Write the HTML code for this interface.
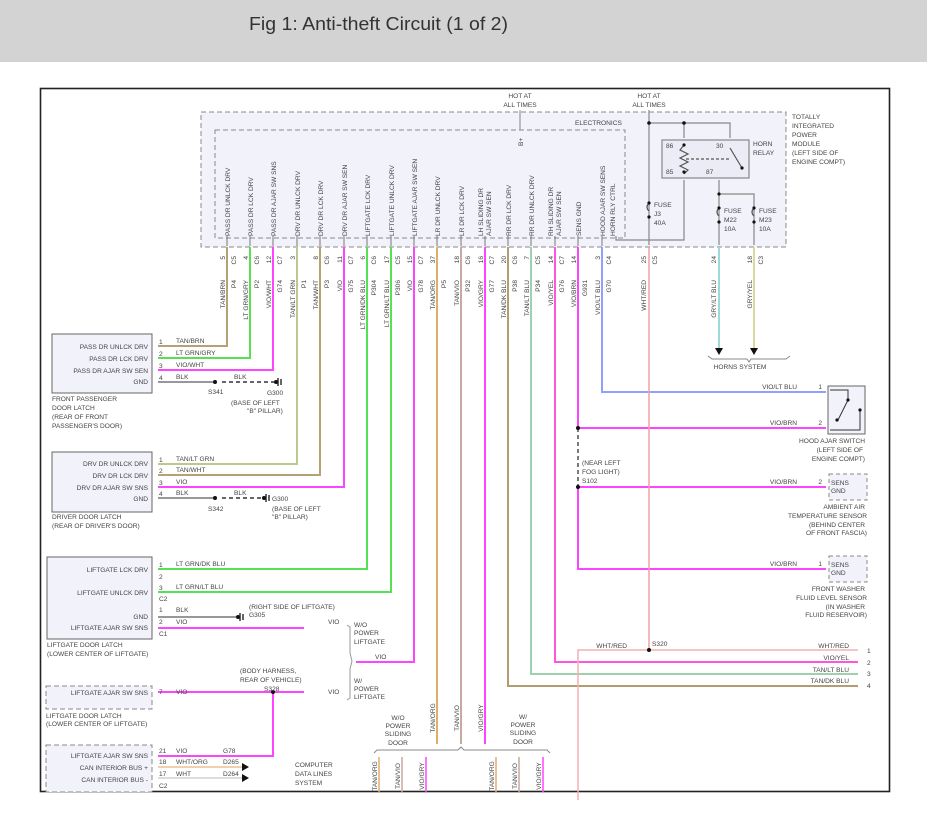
<!DOCTYPE html>
<html><head><meta charset="utf-8"><style>
html,body{margin:0;padding:0;background:#fff;width:927px;height:819px;overflow:hidden}
svg text{font-family:"Liberation Sans",sans-serif;font-size:6.6px;fill:#444}
</style></head><body>
<svg width="927" height="819" viewBox="0 0 927 819" xmlns="http://www.w3.org/2000/svg">
<rect x="0" y="0" width="927" height="62" fill="#d3d3d3"/>
<text x="249" y="30" textLength="259" lengthAdjust="spacingAndGlyphs" style="font-size:18px;fill:#333">Fig 1: Anti-theft Circuit (1 of 2)</text>
<rect x="40.5" y="88.5" width="849" height="703" fill="none" stroke="#222" stroke-width="1.6"/>

<!-- module boxes -->
<rect x="201" y="112" width="585" height="135" fill="#f2f2fb" stroke="#888" stroke-dasharray="5,3"/>
<rect x="215" y="130" width="410" height="108" fill="#f2f2fb" stroke="#888" stroke-dasharray="5,3"/>
<text x="575" y="125">ELECTRONICS</text>
<text x="520" y="98" text-anchor="middle">HOT AT</text><text x="520" y="107" text-anchor="middle">ALL TIMES</text>
<text x="649" y="98" text-anchor="middle">HOT AT</text><text x="649" y="107" text-anchor="middle">ALL TIMES</text>
<line x1="520" y1="110" x2="520" y2="130" stroke="#999" stroke-width="1.2"/>
<text transform="translate(523,146) rotate(-90)">B+</text>
<text x="792" y="119">TOTALLY</text><text x="792" y="128">INTEGRATED</text><text x="792" y="137">POWER</text><text x="792" y="146">MODULE</text><text x="792" y="155">(LEFT SIDE OF</text><text x="792" y="164">ENGINE COMPT)</text>

<!-- relay -->
<g stroke="#888" fill="none" stroke-width="1.2">
<polyline points="649,110 649,245"/>
<polyline points="649,123 730,123 730,138"/>
<line x1="684" y1="123" x2="684" y2="138"/>
<rect x="662" y="140" width="87" height="38" fill="#ececf6"/>
<polyline points="684,180 684,240 616,240 616,236"/>
<polyline points="719,180 719,194 754,194 754,245"/>
<line x1="719" y1="194" x2="719" y2="245"/>
<polyline points="684,145 680,150 688,154 680,158 688,162 680,166 688,170 684,174" stroke="#555"/>
<line x1="686" y1="159" x2="730" y2="159" stroke="#555" stroke-dasharray="3,2"/>
<line x1="730" y1="148" x2="742" y2="168" stroke="#555"/>
<path d="M649 203 q-4 4 0 8 M719 208 q-4 4 0 8 M754 208 q-4 4 0 8" stroke="#555"/>
</g>
<g fill="#111"><circle cx="649" cy="123" r="1.8"/><circle cx="684" cy="123" r="1.8"/><circle cx="684" cy="145" r="1.6"/><circle cx="684" cy="172" r="1.6"/><circle cx="742" cy="168" r="1.6"/><circle cx="719" cy="194" r="1.6"/><circle cx="649" cy="203" r="1.6"/><circle cx="649" cy="217" r="1.6"/><circle cx="719" cy="208" r="1.6"/><circle cx="719" cy="222" r="1.6"/><circle cx="754" cy="208" r="1.6"/><circle cx="754" cy="222" r="1.6"/></g>
<text x="666" y="148">86</text><text x="666" y="174">85</text><text x="716" y="148">30</text><text x="706" y="174">87</text>
<text x="753" y="146">HORN</text><text x="753" y="155">RELAY</text>
<text x="654" y="207">FUSE</text><text x="654" y="216">J3</text><text x="654" y="225">40A</text>
<text x="724" y="213">FUSE</text><text x="724" y="222">M22</text><text x="724" y="231">10A</text>
<text x="759" y="213">FUSE</text><text x="759" y="222">M23</text><text x="759" y="231">10A</text>

<!-- top vertical labels -->
<g>
<text transform="translate(230,236) rotate(-90)">PASS DR UNLCK DRV</text>
<text transform="translate(253,236) rotate(-90)">PASS DR LCK DRV</text>
<text transform="translate(276,236) rotate(-90)">PASS DR AJAR SW SNS</text>
<text transform="translate(300,236) rotate(-90)">DRV DR UNLCK DRV</text>
<text transform="translate(323,236) rotate(-90)">DRV DR LCK DRV</text>
<text transform="translate(347,236) rotate(-90)">DRV DR AJAR SW SEN</text>
<text transform="translate(370,236) rotate(-90)">LIFTGATE LCK DRV</text>
<text transform="translate(394,236) rotate(-90)">LIFTGATE UNLCK DRV</text>
<text transform="translate(417,236) rotate(-90)">LIFTGATE AJAR SW SEN</text>
<text transform="translate(440,236) rotate(-90)">LR DR UNLCK DRV</text>
<text transform="translate(464,236) rotate(-90)">LR DR LCK DRV</text>
<text transform="translate(483,236) rotate(-90)">LH SLIDING DR</text>
<text transform="translate(491,236) rotate(-90)">AJAR SW SEN</text>
<text transform="translate(511,236) rotate(-90)">RR DR LCK DRV</text>
<text transform="translate(534,236) rotate(-90)">RR DR UNLCK DRV</text>
<text transform="translate(553,236) rotate(-90)">RH SLIDING DR</text>
<text transform="translate(561,236) rotate(-90)">AJAR SW SEN</text>
<text transform="translate(581,236) rotate(-90)">SENS GND</text>
<text transform="translate(605,236) rotate(-90)">HOOD AJAR SW SENS</text>
<text transform="translate(615,236) rotate(-90)">HORN RLY CTRL</text>
</g>

<!-- pin labels -->
<g text-anchor="end">
<text transform="translate(225,256) rotate(-90)">5</text><text transform="translate(236,256) rotate(-90)">C5</text>
<text transform="translate(248,256) rotate(-90)">4</text><text transform="translate(259,256) rotate(-90)">C6</text>
<text transform="translate(271,256) rotate(-90)">12</text><text transform="translate(282,256) rotate(-90)">C7</text>
<text transform="translate(295,256) rotate(-90)">3</text>
<text transform="translate(318,256) rotate(-90)">8</text><text transform="translate(329,256) rotate(-90)">C6</text>
<text transform="translate(342,256) rotate(-90)">11</text><text transform="translate(353,256) rotate(-90)">C7</text>
<text transform="translate(365,256) rotate(-90)">6</text><text transform="translate(376,256) rotate(-90)">C6</text>
<text transform="translate(389,256) rotate(-90)">17</text><text transform="translate(400,256) rotate(-90)">C5</text>
<text transform="translate(412,256) rotate(-90)">15</text><text transform="translate(423,256) rotate(-90)">C7</text>
<text transform="translate(435,256) rotate(-90)">37</text>
<text transform="translate(459,256) rotate(-90)">18</text><text transform="translate(470,256) rotate(-90)">C6</text>
<text transform="translate(483,256) rotate(-90)">16</text><text transform="translate(494,256) rotate(-90)">C7</text>
<text transform="translate(506,256) rotate(-90)">20</text><text transform="translate(517,256) rotate(-90)">C6</text>
<text transform="translate(529,256) rotate(-90)">7</text><text transform="translate(540,256) rotate(-90)">C5</text>
<text transform="translate(553,256) rotate(-90)">14</text><text transform="translate(564,256) rotate(-90)">C7</text>
<text transform="translate(576,256) rotate(-90)">14</text>
<text transform="translate(600,256) rotate(-90)">3</text><text transform="translate(611,256) rotate(-90)">C4</text>
<text transform="translate(646,256) rotate(-90)">25</text><text transform="translate(657,256) rotate(-90)">C5</text>
<text transform="translate(716,256) rotate(-90)">24</text>
<text transform="translate(752,256) rotate(-90)">18</text><text transform="translate(763,256) rotate(-90)">C3</text>

<text transform="translate(225,280) rotate(-90)">TAN/BRN</text><text transform="translate(236,280) rotate(-90)">P4</text>
<text transform="translate(248,280) rotate(-90)">LT GRN/GRY</text><text transform="translate(259,280) rotate(-90)">P2</text>
<text transform="translate(271,280) rotate(-90)">VIO/WHT</text><text transform="translate(282,280) rotate(-90)">G74</text>
<text transform="translate(295,280) rotate(-90)">TAN/LT GRN</text><text transform="translate(306,280) rotate(-90)">P1</text>
<text transform="translate(318,280) rotate(-90)">TAN/WHT</text><text transform="translate(329,280) rotate(-90)">P3</text>
<text transform="translate(342,280) rotate(-90)">VIO</text><text transform="translate(353,280) rotate(-90)">G75</text>
<text transform="translate(365,280) rotate(-90)">LT GRN/DK BLU</text><text transform="translate(376,280) rotate(-90)">P304</text>
<text transform="translate(389,280) rotate(-90)">LT GRN/LT BLU</text><text transform="translate(400,280) rotate(-90)">P306</text>
<text transform="translate(412,280) rotate(-90)">VIO</text><text transform="translate(423,280) rotate(-90)">G78</text>
<text transform="translate(435,280) rotate(-90)">TAN/ORG</text><text transform="translate(446,280) rotate(-90)">P5</text>
<text transform="translate(459,280) rotate(-90)">TAN/VIO</text><text transform="translate(470,280) rotate(-90)">P32</text>
<text transform="translate(483,280) rotate(-90)">VIO/GRY</text><text transform="translate(494,280) rotate(-90)">G77</text>
<text transform="translate(506,280) rotate(-90)">TAN/DK BLU</text><text transform="translate(517,280) rotate(-90)">P38</text>
<text transform="translate(529,280) rotate(-90)">TAN/LT BLU</text><text transform="translate(540,280) rotate(-90)">P34</text>
<text transform="translate(553,280) rotate(-90)">VIO/YEL</text><text transform="translate(564,280) rotate(-90)">G76</text>
<text transform="translate(576,280) rotate(-90)">VIO/BRN</text><text transform="translate(587,280) rotate(-90)">G931</text>
<text transform="translate(600,280) rotate(-90)">VIO/LT BLU</text><text transform="translate(611,280) rotate(-90)">G70</text>
<text transform="translate(646,280) rotate(-90)">WHT/RED</text>
<text transform="translate(716,280) rotate(-90)">GRY/LT BLU</text>
<text transform="translate(752,280) rotate(-90)">GRY/YEL</text>
</g>

<g stroke="#777" stroke-width="1">
<path d="M227 236v10M250 236v10M273 236v10M297 236v10M320 236v10M344 236v10M367 236v10M391 236v10M414 236v10M437 236v10M461 236v10M485 236v10M508 236v10M531 236v10M555 236v10M578 236v10M602 236v10"/>
</g>

<!-- wires -->
<g fill="none" stroke-width="2">
<polyline points="227,247 227,346 158,346" stroke="#b5a274"/>
<polyline points="250,247 250,358 158,358" stroke="#55e055"/>
<polyline points="273,247 273,370 158,370" stroke="#ff44ff"/>
<polyline points="297,247 297,464 158,464" stroke="#b9c98f"/>
<polyline points="320,247 320,475 158,475" stroke="#b5a274"/>
<polyline points="344,247 344,487 158,487" stroke="#ff44ff"/>
<polyline points="367,247 367,569 158,569" stroke="#55e055"/>
<polyline points="391,247 391,592 158,592" stroke="#55e055"/>
<polyline points="414,247 414,662 356,662" stroke="#ff44ff"/>
<polyline points="437,247 437,744" stroke="#e0ad6a"/>
<polyline points="461,247 461,744" stroke="#c8a8a0"/>
<polyline points="485,247 485,744" stroke="#ff44ff"/>
<polyline points="508,247 508,686 858,686" stroke="#b39c70"/>
<polyline points="531,247 531,674 858,674" stroke="#9fd0b0"/>
<polyline points="555,247 555,662 858,662" stroke="#ff55dd"/>
<polyline points="578,247 578,428" stroke="#ff44ff"/>
<polyline points="578,487 578,569 826,569" stroke="#ff44ff"/>
<line x1="578" y1="428" x2="826" y2="428" stroke="#ff44ff"/>
<line x1="578" y1="487" x2="826" y2="487" stroke="#ff44ff"/>
<polyline points="602,247 602,392 826,392" stroke="#8fa0ff"/>
<polyline points="649,247 649,650" stroke="#f4a0a0" stroke-width="1.5"/>
<polyline points="578,800 578,650 858,650" stroke="#f4b0b0" stroke-width="1.5"/>
<polyline points="719,247 719,348" stroke="#a0d8d8"/>
<polyline points="754,247 754,348" stroke="#d8d8a0"/>
<line x1="158" y1="628" x2="304" y2="628" stroke="#ff44ff"/>
<line x1="158" y1="692" x2="304" y2="692" stroke="#ff44ff"/>
<polyline points="158,756 273,756 273,692" stroke="#ff44ff"/>
<line x1="158" y1="767" x2="242" y2="767" stroke="#f0d0b0"/>
<line x1="158" y1="778" x2="242" y2="778" stroke="#ddd"/>
</g>
<line x1="578" y1="428" x2="578" y2="487" stroke="#222" stroke-width="1.2" stroke-dasharray="4,3"/>
<g stroke="#777" stroke-width="1.5" fill="none">
<line x1="158" y1="382" x2="215" y2="382"/><line x1="222" y1="382" x2="274" y2="382" stroke-dasharray="4,3" stroke="#333"/>
<line x1="158" y1="498" x2="215" y2="498"/><line x1="222" y1="498" x2="262" y2="498" stroke-dasharray="4,3" stroke="#333"/>
<line x1="158" y1="617" x2="236" y2="617"/>
<path d="M278 378v8M281 379v6M266 494v8M269 495v6M240 613v8M243 614v6" stroke="#333"/>
</g>
<g fill="#111">
<circle cx="215" cy="382" r="2"/><circle cx="276" cy="382" r="2"/><circle cx="215" cy="498" r="2"/><circle cx="264" cy="498" r="2"/><circle cx="238" cy="617" r="2"/>
<circle cx="273" cy="692" r="2"/><circle cx="649" cy="650" r="2"/><circle cx="578" cy="428" r="2"/><circle cx="578" cy="487" r="2"/>
<path d="M715 348h8l-4 7zM750 348h8l-4 7z"/>
<path d="M242 763v8l7-4zM242 774v8l7-4z"/>
</g>
<path d="M708 356l4 3h35l2 3 2-3h35l4-3" fill="none" stroke="#888"/>
<text x="740" y="369" text-anchor="middle">HORNS SYSTEM</text>

<!-- left components -->
<g fill="#f2f2fb" stroke="#666">
<rect x="52" y="334" width="100" height="59"/>
<rect x="52" y="452" width="100" height="60"/>
<rect x="47" y="557" width="105" height="82"/>
<rect x="46" y="686" width="106" height="23" stroke-dasharray="5,3" stroke="#888"/>
<rect x="46" y="745" width="106" height="47" stroke-dasharray="5,3" stroke="#888"/>
</g>
<g text-anchor="end">
<text x="148" y="349">PASS DR UNLCK DRV</text><text x="148" y="361">PASS DR LCK DRV</text><text x="148" y="373">PASS DR AJAR SW SEN</text><text x="148" y="384">GND</text>
<text x="148" y="466">DRV DR UNLCK DRV</text><text x="148" y="478">DRV DR LCK DRV</text><text x="148" y="490">DRV DR AJAR SW SNS</text><text x="148" y="501">GND</text>
<text x="148" y="572">LIFTGATE LCK DRV</text><text x="148" y="595">LIFTGATE UNLCK DRV</text><text x="148" y="619">GND</text><text x="148" y="630">LIFTGATE AJAR SW SNS</text>
<text x="148" y="695">LIFTGATE AJAR SW SNS</text>
<text x="148" y="758">LIFTGATE AJAR SW SNS</text><text x="148" y="770">CAN INTERIOR BUS +</text><text x="148" y="782">CAN INTERIOR BUS -</text>
</g>
<text x="52" y="401">FRONT PASSENGER</text><text x="52" y="410">DOOR LATCH</text><text x="52" y="419">(REAR OF FRONT</text><text x="52" y="428">PASSENGER'S DOOR)</text>
<text x="52" y="519">DRIVER DOOR LATCH</text><text x="52" y="528">(REAR OF DRIVER'S DOOR)</text>
<text x="47" y="647">LIFTGATE DOOR LATCH</text><text x="47" y="656">(LOWER CENTER OF LIFTGATE)</text>
<text x="46" y="718">LIFTGATE DOOR LATCH</text><text x="46" y="726">(LOWER CENTER OF LIFTGATE)</text>
<g>
<text x="159" y="344">1</text><text x="176" y="343">TAN/BRN</text>
<text x="159" y="356">2</text><text x="176" y="355">LT GRN/GRY</text>
<text x="159" y="368">3</text><text x="176" y="367">VIO/WHT</text>
<text x="159" y="380">4</text><text x="176" y="379">BLK</text><text x="234" y="379">BLK</text>
<text x="208" y="394">S341</text><text x="267" y="395">G300</text><text x="231" y="405">(BASE OF LEFT</text><text x="247" y="413">"B" PILLAR)</text>
<text x="159" y="462">1</text><text x="176" y="461">TAN/LT GRN</text>
<text x="159" y="473">2</text><text x="176" y="472">TAN/WHT</text>
<text x="159" y="485">3</text><text x="176" y="484">VIO</text>
<text x="159" y="496">4</text><text x="176" y="495">BLK</text><text x="234" y="495">BLK</text>
<text x="208" y="511">S342</text><text x="272" y="501">G300</text><text x="272" y="511">(BASE OF LEFT</text><text x="272" y="519">"B" PILLAR)</text>
<text x="159" y="567">1</text><text x="176" y="566">LT GRN/DK BLU</text>
<text x="159" y="579">2</text>
<text x="159" y="590">3</text><text x="176" y="589">LT GRN/LT BLU</text><text x="159" y="601">C2</text>
<text x="159" y="612">1</text><text x="176" y="612">BLK</text><text x="249" y="609">(RIGHT SIDE OF LIFTGATE)</text><text x="249" y="617">G305</text>
<text x="159" y="624">2</text><text x="176" y="624">VIO</text><text x="328" y="624">VIO</text><text x="159" y="636">C1</text>
<text x="354" y="627">W/O</text><text x="354" y="635">POWER</text><text x="354" y="644">LIFTGATE</text>
<text x="375" y="659">VIO</text>
<text x="240" y="673">(BODY HARNESS,</text><text x="240" y="682">REAR OF VEHICLE)</text><text x="264" y="691">S328</text>
<text x="159" y="694">7</text><text x="176" y="694">VIO</text><text x="328" y="694">VIO</text>
<text x="354" y="683">W/</text><text x="354" y="691">POWER</text><text x="354" y="699">LIFTGATE</text>
<text x="159" y="753">21</text><text x="176" y="753">VIO</text><text x="223" y="753">G78</text>
<text x="159" y="764">18</text><text x="176" y="764">WHT/ORG</text><text x="223" y="764">D265</text>
<text x="159" y="776">17</text><text x="176" y="776">WHT</text><text x="223" y="776">D264</text>
<text x="159" y="788">C2</text>
<text x="295" y="767">COMPUTER</text><text x="295" y="776">DATA LINES</text><text x="295" y="785">SYSTEM</text>
</g>
<path d="M347 625l3 2v26l2 8-2 8v29l-3 2" fill="none" stroke="#999"/>

<text x="398" y="720" text-anchor="middle">W/O</text><text x="398" y="728" text-anchor="middle">POWER</text><text x="398" y="736" text-anchor="middle">SLIDING</text><text x="398" y="745" text-anchor="middle">DOOR</text>
<text x="523" y="719" text-anchor="middle">W/</text><text x="523" y="727" text-anchor="middle">POWER</text><text x="523" y="735" text-anchor="middle">SLIDING</text><text x="523" y="744" text-anchor="middle">DOOR</text>
<g text-anchor="middle">
<text transform="translate(435,718) rotate(-90)">TAN/ORG</text>
<text transform="translate(459,718) rotate(-90)">TAN/VIO</text>
<text transform="translate(483,718) rotate(-90)">VIO/GRY</text>
<text transform="translate(377,776) rotate(-90)">TAN/ORG</text>
<text transform="translate(400,776) rotate(-90)">TAN/VIO</text>
<text transform="translate(424,776) rotate(-90)">VIO/GRY</text>
<text transform="translate(494,776) rotate(-90)">TAN/ORG</text>
<text transform="translate(517,776) rotate(-90)">TAN/VIO</text>
<text transform="translate(541,776) rotate(-90)">VIO/GRY</text>
</g>
<path d="M374 753l3-3h81l3-3 3 3h83l3 3" fill="none" stroke="#888"/>
<g stroke-width="1.5">
<line x1="379" y1="757" x2="379" y2="792" stroke="#e0ad6a"/>
<line x1="402" y1="757" x2="402" y2="792" stroke="#c8a8a0"/>
<line x1="426" y1="757" x2="426" y2="792" stroke="#ff44ff"/>
<line x1="496" y1="757" x2="496" y2="792" stroke="#e0ad6a"/>
<line x1="519" y1="757" x2="519" y2="792" stroke="#c8a8a0"/>
<line x1="543" y1="757" x2="543" y2="792" stroke="#ff44ff"/>
</g>

<rect x="828" y="386" width="37" height="48" fill="#f2f2fb" stroke="#666"/>
<g stroke="#333" fill="none"><polyline points="830,390 848,390 848,400 838,420"/><polyline points="860,410 860,430 830,430"/></g>
<g fill="#111"><circle cx="848" cy="400" r="1.6"/><circle cx="837" cy="420" r="1.6"/><circle cx="860" cy="410" r="1.6"/></g>
<rect x="829" y="474" width="38" height="26" fill="#f2f2fb" stroke="#888" stroke-dasharray="4,3"/>
<rect x="829" y="556" width="38" height="26" fill="#f2f2fb" stroke="#888" stroke-dasharray="4,3"/>
<text x="831" y="485">SENS</text><text x="831" y="493">GND</text>
<text x="831" y="567">SENS</text><text x="831" y="575">GND</text>
<g text-anchor="end">
<text x="797" y="389">VIO/LT BLU</text><text x="822" y="389">1</text>
<text x="797" y="425">VIO/BRN</text><text x="822" y="425">2</text>
<text x="797" y="484">VIO/BRN</text><text x="822" y="484">2</text>
<text x="797" y="566">VIO/BRN</text><text x="822" y="566">1</text>
<text x="865" y="443">HOOD AJAR SWITCH</text><text x="863" y="452">(LEFT SIDE OF</text><text x="865" y="461">ENGINE COMPT)</text>
<text x="865" y="509">AMBIENT AIR</text><text x="867" y="518">TEMPERATURE SENSOR</text><text x="865" y="527">(BEHIND CENTER</text><text x="867" y="535">OF FRONT FASCIA)</text>
<text x="865" y="591">FRONT WASHER</text><text x="867" y="600">FLUID LEVEL SENSOR</text><text x="865" y="609">(IN WASHER</text><text x="867" y="617">FLUID RESERVOIR)</text>
<text x="849" y="648">WHT/RED</text><text x="849" y="660">VIO/YEL</text><text x="849" y="672">TAN/LT BLU</text><text x="849" y="683">TAN/DK BLU</text>
<text x="627" y="648">WHT/RED</text>
</g>
<text x="652" y="646">S320</text>
<text x="582" y="465">(NEAR LEFT</text><text x="582" y="474">FOG LIGHT)</text><text x="582" y="483">S102</text>
<text x="867" y="653">1</text><text x="867" y="665">2</text><text x="867" y="676">3</text><text x="867" y="688">4</text>
</svg>
</body></html>
